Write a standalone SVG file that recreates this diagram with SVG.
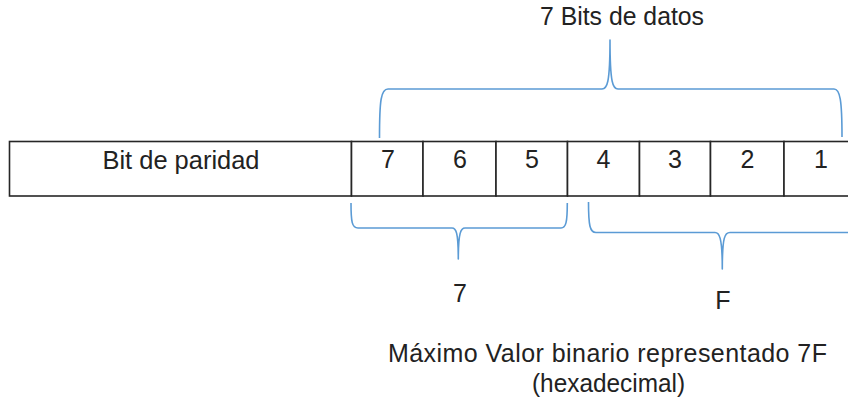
<svg xmlns="http://www.w3.org/2000/svg" width="848" height="406" viewBox="0 0 848 406">
<style>
.cell{fill:#fff;stroke:#262626;stroke-width:1.6}
.t{font-family:"Liberation Sans",Arial,sans-serif;font-size:25px;fill:#222;text-anchor:middle}
.brace{fill:none;stroke:#5B9BD5;stroke-width:1.6;stroke-linejoin:round}
</style>
<rect x="0" y="0" width="848" height="406" fill="#fff"/>
<g id="table">
<g id="parity"><rect class="cell" x="9.5" y="141.5" width="342" height="54.5"/><text class="t" x="181" y="169" textLength="157" lengthAdjust="spacingAndGlyphs">Bit de paridad</text></g>
<g id="bit7"><rect class="cell" x="351.5" y="141.5" width="71.5" height="54.5"/><text class="t" x="388" y="168">7</text></g>
<g id="bit6"><rect class="cell" x="423" y="141.5" width="73" height="54.5"/><text class="t" x="460" y="168">6</text></g>
<g id="bit5"><rect class="cell" x="496" y="141.5" width="71.5" height="54.5"/><text class="t" x="532" y="168">5</text></g>
<g id="bit4"><rect class="cell" x="567.5" y="141.5" width="72" height="54.5"/><text class="t" x="603.5" y="168">4</text></g>
<g id="bit3"><rect class="cell" x="639.5" y="141.5" width="71" height="54.5"/><text class="t" x="675" y="168">3</text></g>
<g id="bit2"><rect class="cell" x="710.5" y="141.5" width="73.5" height="54.5"/><text class="t" x="747.5" y="168">2</text></g>
<g id="bit1"><rect class="cell" x="784" y="141.5" width="74" height="54.5"/><text class="t" x="821" y="168">1</text></g>
</g>
<g id="connectors">
<path class="brace" d="M379.5,138 C379.5,100 381,89 388,89 L602,89 C607,89 610,84 610,40 C610,84 613,89 618,89 L834,89 C840,89 842,100 842,137"/>
<path class="brace" d="M351,203 C351,222 352,228 358,228 L452,228 C456,228 458.3,232 458.3,259 C458.3,232 461,228 465,228 L561,228 C566,228 567.3,222 567.3,203"/>
<path class="brace" d="M588.5,202 C588.5,226 590,232.5 596,232.5 L715,232.5 C719,232.5 722.3,236 722.3,269 C722.3,236 725,232.5 730,232.5 L860,232.5"/>
</g>
<g id="labels">
<text class="t" x="622" y="25" textLength="164" lengthAdjust="spacingAndGlyphs">7 Bits de datos</text>
<text class="t" x="460" y="302">7</text>
<text class="t" x="723" y="309">F</text>
<text class="t" x="607.5" y="362" textLength="439" lengthAdjust="spacing">Máximo Valor binario representado 7F</text>
<text class="t" x="608.5" y="392" textLength="153" lengthAdjust="spacingAndGlyphs">(hexadecimal)</text>
</g>
</svg>
